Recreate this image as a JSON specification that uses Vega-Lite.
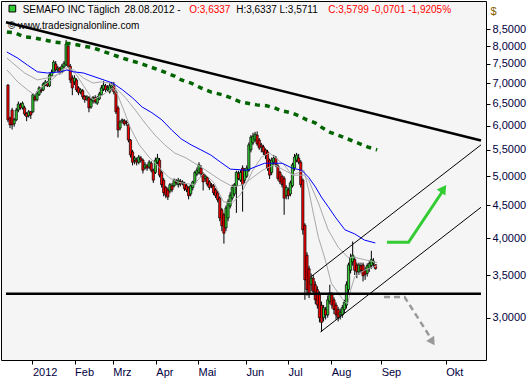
{
 "$schema": "https://vega.github.io/schema/vega-lite/v6.json",
 "width": 485, "height": 359,
 "autosize": "none",
 "padding": {"left": 1, "top": 1, "right": 44, "bottom": 20},
 "background": "white",
 "config": {"view": {"stroke": "black", "strokeWidth": 1, "fill": "#f5f5f5"}, "font": "Liberation Sans"},
 "datasets": {
  "candles": [
   {"i":0,"o":6.95,"h":6.97,"l":6.08,"c":6.13},{"i":1,"o":6.17,"h":6.20,"l":5.95,"c":6.02},{"i":2,"o":6.35,"h":6.40,"l":5.92,"c":6.02},{"i":3,"o":6.04,"h":6.17,"l":5.98,"c":6.13},{"i":4,"o":6.13,"h":6.40,"l":6.10,"c":6.35},{"i":5,"o":6.35,"h":6.55,"l":6.30,"c":6.49},{"i":6,"o":6.47,"h":6.52,"l":6.36,"c":6.40},{"i":7,"o":6.40,"h":6.55,"l":6.36,"c":6.51},{"i":8,"o":6.40,"h":6.45,"l":6.22,"c":6.26},{"i":9,"o":6.28,"h":6.30,"l":6.10,"c":6.20},
   {"i":10,"o":6.22,"h":6.35,"l":6.18,"c":6.31},{"i":11,"o":6.31,"h":6.33,"l":6.15,"c":6.24},{"i":12,"o":6.31,"h":6.75,"l":6.28,"c":6.71},{"i":13,"o":6.66,"h":6.73,"l":6.55,"c":6.59},{"i":14,"o":6.59,"h":6.80,"l":6.55,"c":6.76},{"i":15,"o":6.71,"h":6.92,"l":6.68,"c":6.88},{"i":16,"o":6.83,"h":6.90,"l":6.75,"c":6.80},{"i":17,"o":6.83,"h":7.02,"l":6.80,"c":6.98},{"i":18,"o":6.95,"h":7.08,"l":6.92,"c":7.03},{"i":19,"o":7.00,"h":7.05,"l":6.90,"c":6.93},
   {"i":20,"o":6.93,"h":7.25,"l":6.90,"c":7.21},{"i":21,"o":7.18,"h":7.35,"l":7.15,"c":7.28},{"i":22,"o":7.28,"h":7.60,"l":7.25,"c":7.55},{"i":23,"o":7.50,"h":7.58,"l":7.30,"c":7.34},{"i":24,"o":7.34,"h":7.45,"l":7.28,"c":7.39},{"i":25,"o":7.39,"h":7.42,"l":7.22,"c":7.28},{"i":26,"o":7.28,"h":7.50,"l":7.25,"c":7.44},{"i":27,"o":7.42,"h":7.58,"l":7.38,"c":7.52},{"i":28,"o":7.47,"h":8.18,"l":7.45,"c":8.06},{"i":29,"o":8.00,"h":8.10,"l":7.40,"c":7.44},
   {"i":30,"o":7.44,"h":7.50,"l":7.00,"c":7.08},{"i":31,"o":7.13,"h":7.20,"l":6.70,"c":6.88},{"i":32,"o":7.03,"h":7.20,"l":6.95,"c":7.13},{"i":33,"o":7.08,"h":7.12,"l":6.78,"c":6.83},{"i":34,"o":6.88,"h":6.92,"l":6.70,"c":6.76},{"i":35,"o":6.78,"h":6.87,"l":6.72,"c":6.83},{"i":36,"o":6.81,"h":6.85,"l":6.60,"c":6.66},{"i":37,"o":6.68,"h":6.70,"l":6.52,"c":6.59},{"i":38,"o":6.61,"h":6.70,"l":6.56,"c":6.66},{"i":39,"o":6.64,"h":6.68,"l":6.30,"c":6.40},
   {"i":40,"o":6.42,"h":6.63,"l":6.38,"c":6.59},{"i":41,"o":6.56,"h":6.68,"l":6.50,"c":6.64},{"i":42,"o":6.64,"h":6.70,"l":6.50,"c":6.54},{"i":43,"o":6.51,"h":6.68,"l":6.47,"c":6.64},{"i":44,"o":6.61,"h":6.78,"l":6.58,"c":6.73},{"i":45,"o":6.71,"h":6.95,"l":6.68,"c":6.88},{"i":46,"o":6.85,"h":7.05,"l":6.80,"c":6.95},{"i":47,"o":6.93,"h":6.98,"l":6.78,"c":6.83},{"i":48,"o":6.83,"h":6.95,"l":6.78,"c":6.88},{"i":49,"o":6.78,"h":7.00,"l":6.74,"c":6.93},
   {"i":50,"o":6.88,"h":7.03,"l":6.82,"c":6.95},{"i":51,"o":6.93,"h":7.03,"l":6.72,"c":6.78},{"i":52,"o":6.78,"h":6.82,"l":6.26,"c":6.31},{"i":53,"o":6.40,"h":6.45,"l":5.75,"c":5.91},{"i":54,"o":5.95,"h":6.12,"l":5.90,"c":6.08},{"i":55,"o":6.10,"h":6.16,"l":6.05,"c":6.13},{"i":56,"o":6.11,"h":6.15,"l":6.00,"c":6.04},{"i":57,"o":6.08,"h":6.12,"l":6.00,"c":6.06},{"i":58,"o":6.02,"h":6.05,"l":5.65,"c":5.70},{"i":59,"o":5.70,"h":5.72,"l":5.35,"c":5.40},
   {"i":60,"o":5.46,"h":5.50,"l":5.20,"c":5.26},{"i":61,"o":5.30,"h":5.38,"l":5.22,"c":5.34},{"i":62,"o":5.30,"h":5.35,"l":5.20,"c":5.26},{"i":63,"o":5.26,"h":5.40,"l":5.22,"c":5.36},{"i":64,"o":5.34,"h":5.38,"l":5.25,"c":5.30},{"i":65,"o":5.30,"h":5.33,"l":5.05,"c":5.11},{"i":66,"o":5.15,"h":5.26,"l":5.12,"c":5.21},{"i":67,"o":5.19,"h":5.23,"l":5.10,"c":5.15},{"i":68,"o":5.17,"h":5.30,"l":5.13,"c":5.26},{"i":69,"o":5.24,"h":5.28,"l":5.07,"c":5.11},
   {"i":70,"o":5.11,"h":5.14,"l":4.88,"c":4.93},{"i":71,"o":5.07,"h":5.35,"l":5.04,"c":5.30},{"i":72,"o":5.26,"h":5.42,"l":5.22,"c":5.34},{"i":73,"o":5.30,"h":5.34,"l":4.98,"c":5.02},{"i":74,"o":5.07,"h":5.10,"l":4.80,"c":4.85},{"i":75,"o":4.93,"h":4.97,"l":4.65,"c":4.71},{"i":76,"o":4.80,"h":4.83,"l":4.62,"c":4.67},{"i":77,"o":4.76,"h":4.80,"l":4.59,"c":4.64},{"i":78,"o":4.74,"h":4.88,"l":4.70,"c":4.85},{"i":79,"o":4.83,"h":4.88,"l":4.72,"c":4.76},
   {"i":80,"o":4.83,"h":4.96,"l":4.80,"c":4.93},{"i":81,"o":4.91,"h":4.95,"l":4.84,"c":4.88},{"i":82,"o":4.85,"h":4.97,"l":4.80,"c":4.93},{"i":83,"o":4.91,"h":4.95,"l":4.82,"c":4.86},{"i":84,"o":4.88,"h":4.93,"l":4.84,"c":4.90},{"i":85,"o":4.88,"h":4.90,"l":4.74,"c":4.78},{"i":86,"o":4.83,"h":4.86,"l":4.72,"c":4.76},{"i":87,"o":4.80,"h":4.82,"l":4.60,"c":4.66},{"i":88,"o":4.69,"h":4.86,"l":4.65,"c":4.83},{"i":89,"o":4.80,"h":4.92,"l":4.75,"c":4.90},
   {"i":90,"o":4.88,"h":5.10,"l":4.85,"c":5.07},{"i":91,"o":5.04,"h":5.16,"l":5.00,"c":5.11},{"i":92,"o":5.07,"h":5.26,"l":5.03,"c":5.21},{"i":93,"o":5.15,"h":5.20,"l":4.98,"c":5.04},{"i":94,"o":5.04,"h":5.07,"l":4.75,"c":4.90},{"i":95,"o":4.96,"h":5.04,"l":4.90,"c":5.00},{"i":96,"o":4.98,"h":5.00,"l":4.82,"c":4.86},{"i":97,"o":4.90,"h":4.93,"l":4.76,"c":4.80},{"i":98,"o":4.85,"h":4.88,"l":4.79,"c":4.83},{"i":99,"o":4.83,"h":4.86,"l":4.67,"c":4.71},
   {"i":100,"o":4.76,"h":4.79,"l":4.62,"c":4.66},{"i":101,"o":4.71,"h":4.74,"l":4.55,"c":4.59},{"i":102,"o":4.62,"h":4.65,"l":4.25,"c":4.30},{"i":103,"o":4.43,"h":4.46,"l":4.10,"c":4.18},{"i":104,"o":4.35,"h":4.38,"l":3.92,"c":4.07},{"i":105,"o":4.15,"h":4.50,"l":4.10,"c":4.46},{"i":106,"o":4.30,"h":4.60,"l":4.25,"c":4.56},{"i":107,"o":4.49,"h":4.72,"l":4.45,"c":4.67},{"i":108,"o":4.62,"h":4.85,"l":4.58,"c":4.80},{"i":109,"o":4.69,"h":4.88,"l":4.65,"c":4.85},
   {"i":110,"o":4.83,"h":5.10,"l":4.38,"c":5.07},{"i":111,"o":5.05,"h":5.10,"l":4.93,"c":4.96},{"i":112,"o":4.93,"h":5.11,"l":4.90,"c":5.07},{"i":113,"o":5.15,"h":5.20,"l":4.40,"c":4.85},{"i":114,"o":4.93,"h":5.15,"l":4.88,"c":5.11},{"i":115,"o":5.00,"h":5.20,"l":4.97,"c":5.15},{"i":116,"o":5.11,"h":5.65,"l":5.08,"c":5.60},{"i":117,"o":5.50,"h":5.80,"l":5.45,"c":5.76},{"i":118,"o":5.64,"h":5.85,"l":5.60,"c":5.78},{"i":119,"o":5.70,"h":5.87,"l":5.66,"c":5.82},
   {"i":120,"o":5.80,"h":5.88,"l":5.58,"c":5.62},{"i":121,"o":5.70,"h":5.74,"l":5.50,"c":5.54},{"i":122,"o":5.60,"h":5.64,"l":5.45,"c":5.56},{"i":123,"o":5.56,"h":5.60,"l":5.40,"c":5.46},{"i":124,"o":5.50,"h":5.53,"l":5.32,"c":5.40},{"i":125,"o":5.46,"h":5.50,"l":5.10,"c":5.15},{"i":126,"o":5.30,"h":5.33,"l":4.95,"c":5.02},{"i":127,"o":5.07,"h":5.35,"l":5.02,"c":5.30},{"i":128,"o":5.26,"h":5.40,"l":5.20,"c":5.34},{"i":129,"o":5.34,"h":5.38,"l":5.17,"c":5.21},
   {"i":130,"o":5.19,"h":5.22,"l":4.92,"c":4.96},{"i":131,"o":5.07,"h":5.10,"l":4.86,"c":4.90},{"i":132,"o":5.00,"h":5.03,"l":4.80,"c":4.85},{"i":133,"o":4.96,"h":5.00,"l":4.35,"c":4.62},{"i":134,"o":4.66,"h":4.84,"l":4.60,"c":4.80},{"i":135,"o":4.76,"h":4.80,"l":4.60,"c":4.66},{"i":136,"o":4.69,"h":4.92,"l":4.65,"c":4.88},{"i":137,"o":4.83,"h":5.25,"l":4.80,"c":5.21},{"i":138,"o":5.15,"h":5.42,"l":5.10,"c":5.36},{"i":139,"o":5.30,"h":5.44,"l":5.26,"c":5.40},
   {"i":140,"o":5.34,"h":5.42,"l":5.22,"c":5.26},{"i":141,"o":5.26,"h":5.30,"l":4.80,"c":4.85},{"i":142,"o":4.93,"h":4.96,"l":4.05,"c":4.12},{"i":143,"o":4.19,"h":4.22,"l":3.20,"c":3.44},{"i":144,"o":3.76,"h":3.80,"l":3.25,"c":3.32},{"i":145,"o":3.58,"h":3.62,"l":3.22,"c":3.26},{"i":146,"o":3.38,"h":3.52,"l":3.30,"c":3.46},{"i":147,"o":3.46,"h":3.50,"l":3.26,"c":3.30},{"i":148,"o":3.38,"h":3.42,"l":3.15,"c":3.20},{"i":149,"o":3.32,"h":3.36,"l":3.10,"c":3.14},
   {"i":150,"o":3.26,"h":3.30,"l":2.95,"c":3.00},{"i":151,"o":3.14,"h":3.18,"l":2.85,"c":2.95},{"i":152,"o":3.00,"h":3.14,"l":2.96,"c":3.11},{"i":153,"o":3.09,"h":3.12,"l":2.98,"c":3.03},{"i":154,"o":3.03,"h":3.25,"l":3.00,"c":3.20},{"i":155,"o":3.18,"h":3.38,"l":3.15,"c":3.28},{"i":156,"o":3.26,"h":3.29,"l":3.10,"c":3.14},{"i":157,"o":3.20,"h":3.23,"l":3.04,"c":3.09},{"i":158,"o":3.14,"h":3.17,"l":2.98,"c":3.03},{"i":159,"o":3.09,"h":3.12,"l":2.96,"c":3.00},
   {"i":160,"o":3.03,"h":3.10,"l":2.98,"c":3.06},{"i":161,"o":3.03,"h":3.14,"l":3.00,"c":3.11},{"i":162,"o":3.09,"h":3.20,"l":3.05,"c":3.17},{"i":163,"o":3.14,"h":3.42,"l":3.10,"c":3.38},{"i":164,"o":3.32,"h":3.66,"l":3.28,"c":3.63},{"i":165,"o":3.56,"h":3.78,"l":3.52,"c":3.73},{"i":166,"o":3.67,"h":3.95,"l":3.62,"c":3.76},{"i":167,"o":3.70,"h":3.74,"l":3.50,"c":3.56},{"i":168,"o":3.63,"h":3.66,"l":3.46,"c":3.54},{"i":169,"o":3.54,"h":3.66,"l":3.50,"c":3.63},
   {"i":170,"o":3.62,"h":3.66,"l":3.52,"c":3.56},{"i":171,"o":3.63,"h":3.66,"l":3.42,"c":3.49},{"i":172,"o":3.56,"h":3.60,"l":3.44,"c":3.51},{"i":173,"o":3.52,"h":3.65,"l":3.48,"c":3.62},{"i":174,"o":3.59,"h":3.68,"l":3.54,"c":3.65},{"i":175,"o":3.62,"h":3.82,"l":3.58,"c":3.70},{"i":176,"o":3.65,"h":3.72,"l":3.60,"c":3.68},{"i":177,"o":3.6337,"h":3.6337,"l":3.5711,"c":3.5799}
  ],
  "blue": [
   {"i":-0.5,"v":7.83},{"i":4.7,"v":7.66},{"i":9.4,"v":7.47},{"i":14.2,"v":7.29},{"i":18.9,"v":7.26},{"i":25.5,"v":7.29},{"i":28.3,"v":7.34},{"i":31.6,"v":7.29},{"i":36.3,"v":7.26},{"i":43.4,"v":7.13},{"i":50.5,"v":7.0},{"i":55.2,"v":6.83},{"i":59.9,"v":6.64},{"i":64.6,"v":6.42},{"i":69.3,"v":6.29},{"i":74.1,"v":6.13},{"i":78.8,"v":5.91},{"i":83.5,"v":5.72},{"i":88.2,"v":5.60},{"i":92.9,"v":5.50},{"i":97.6,"v":5.40},{"i":102.4,"v":5.26},{"i":107.1,"v":5.13},{"i":115.1,"v":5.11},{"i":118.9,"v":5.17},{"i":123.6,"v":5.24},{"i":132.1,"v":5.24},{"i":136.8,"v":5.15},{"i":141.5,"v":5.11},{"i":144.8,"v":4.98},{"i":148.1,"v":4.81},{"i":150.9,"v":4.64},{"i":154.2,"v":4.48},{"i":157.5,"v":4.32},{"i":162.3,"v":4.12},{"i":167.0,"v":4.06},{"i":171.7,"v":3.97},{"i":176.9,"v":3.93}
  ],
  "slow": [
   {"i":-0.5,"v":7.66},{"i":8.0,"v":7.26},{"i":14.2,"v":7.08},{"i":18.9,"v":7.13},{"i":23.6,"v":7.21},{"i":28.3,"v":7.34},{"i":31.6,"v":7.34},{"i":36.3,"v":7.13},{"i":41.0,"v":7.0},{"i":44.8,"v":7.03},{"i":49.1,"v":7.0},{"i":52.8,"v":6.83},{"i":56.6,"v":6.64},{"i":61.3,"v":6.35},{"i":66.0,"v":6.06},{"i":70.8,"v":5.80},{"i":75.5,"v":5.60},{"i":80.2,"v":5.44},{"i":85.8,"v":5.34},{"i":92.9,"v":5.17},{"i":102.4,"v":4.93},{"i":108.5,"v":4.81},{"i":113.2,"v":4.85},{"i":117.9,"v":4.98},{"i":122.6,"v":5.11},{"i":128.3,"v":5.21},{"i":133.0,"v":5.11},{"i":137.7,"v":5.02},{"i":142.5,"v":5.02},{"i":144.8,"v":4.93},{"i":149.5,"v":4.54},{"i":154.2,"v":4.12},{"i":159.0,"v":3.87},{"i":163.7,"v":3.73},{"i":167.0,"v":3.73},{"i":171.7,"v":3.70},{"i":177.8,"v":3.66}
  ],
  "fast": [
   {"i":-0.5,"v":7.34},{"i":4.7,"v":7.03},{"i":9.4,"v":6.83},{"i":12.7,"v":6.71},{"i":17.5,"v":6.95},{"i":22.2,"v":7.13},{"i":25.9,"v":7.34},{"i":29.2,"v":7.42},{"i":33.0,"v":7.21},{"i":37.7,"v":6.83},{"i":41.0,"v":6.59},{"i":45.8,"v":6.71},{"i":50.5,"v":6.88},{"i":52.8,"v":6.71},{"i":56.1,"v":6.31},{"i":59.0,"v":5.95},{"i":63.2,"v":5.60},{"i":67.9,"v":5.36},{"i":72.6,"v":5.17},{"i":77.4,"v":4.98},{"i":82.1,"v":4.89},{"i":85.8,"v":4.87},{"i":89.6,"v":4.85},{"i":94.3,"v":5.06},{"i":99.1,"v":4.89},{"i":103.8,"v":4.56},{"i":108.0,"v":4.54},{"i":111.8,"v":4.67},{"i":115.1,"v":4.89},{"i":117.9,"v":5.11},{"i":122.2,"v":5.36},{"i":125.9,"v":5.44},{"i":133.0,"v":5.21},{"i":136.8,"v":5.02},{"i":140.1,"v":5.07},{"i":142.5,"v":5.11},{"i":144.8,"v":4.76},{"i":147.2,"v":4.35},{"i":149.5,"v":4.01},{"i":152.8,"v":3.70},{"i":155.7,"v":3.40},{"i":159.0,"v":3.28},{"i":162.3,"v":3.17},{"i":163.7,"v":3.16},{"i":165.1,"v":3.32},{"i":167.0,"v":3.48},{"i":171.7,"v":3.56},{"i":174.5,"v":3.59},{"i":177.8,"v":3.62}
  ],
  "ma200": [
   {"i":-0.5,"v":8.42},{"i":3.3,"v":8.39},{"i":8.0,"v":8.27},{"i":12.7,"v":8.24},{"i":17.5,"v":8.18},{"i":22.2,"v":8.12},{"i":26.9,"v":8.09},{"i":31.6,"v":8.06},{"i":36.3,"v":8.0},{"i":41.0,"v":7.95},{"i":55.2,"v":7.66},{"i":64.6,"v":7.50},{"i":72.6,"v":7.34},{"i":76.4,"v":7.26},{"i":80.2,"v":7.18},{"i":83.5,"v":7.08},{"i":88.2,"v":7.0},{"i":92.9,"v":6.88},{"i":97.6,"v":6.78},{"i":103.3,"v":6.71},{"i":107.1,"v":6.64},{"i":111.8,"v":6.54},{"i":119.8,"v":6.47},{"i":124.5,"v":6.45},{"i":128.3,"v":6.40},{"i":132.1,"v":6.33},{"i":136.3,"v":6.29},{"i":140.1,"v":6.22},{"i":143.9,"v":6.13},{"i":148.1,"v":6.06},{"i":150.9,"v":5.97},{"i":155.2,"v":5.86},{"i":158.9,"v":5.80},{"i":163.7,"v":5.72},{"i":168.4,"v":5.64},{"i":173.1,"v":5.56},{"i":177.8,"v":5.50}
  ],
  "trend": [{"i":-0.94,"v":8.72},{"i":227.8,"v":5.69}],
  "support": [{"i":-0.94,"v":3.27},{"i":227.8,"v":3.27}],
  "chanUp": [{"i":145.75,"v":3.475},{"i":227.8,"v":5.60}],
  "chanLow": [{"i":150.5,"v":2.849},{"i":227.8,"v":4.47}],
  "greenArrow": [{"i":182.5,"v":3.94},{"i":192.9,"v":3.94},{"i":209.4,"v":4.74}],
  "greenHead": [{"i":209.8,"v":4.78}],
  "greyArrow": [{"i":181.1,"v":3.233},{"i":191.0,"v":3.233},{"i":204.2,"v":2.768}],
  "greyHead": [{"i":204.4,"v":2.75}],
  "hdrBlack": [{"i":7.08,"v":9.13,"t":"SEMAFO INC Täglich"},{"i":56.1,"v":9.13,"t":"28.08.2012 -"},{"i":109.9,"v":9.13,"t":"H:3,6337 L:3,5711"},{"i":0,"v":8.60,"t":"© www.tradesignalonline.com"}],
  "hdrRed": [{"i":87.3,"v":9.13,"t":"O:3,6337"},{"i":154.2,"v":9.13,"t":"C:3,5799 -0,0701 -1,9205%"}],
  "icon": [{"i":2.12,"v":9.16}]
 },
 "layer": [
  {"data": {"name": "candles"}, "mark": {"type": "rule", "color": "black", "strokeWidth": 1},
   "encoding": {
    "x": {"field": "i", "type": "quantitative", "title": null, "scale": {"domain": [-0.94, 227.8], "nice": false, "zero": false},
      "axis": {"values": [11.79, 32.08, 50.47, 71.23, 91.51, 114.62, 134.91, 155.66, 179.72, 210.85],
        "labelExpr": "datum.value < 20 ? '2012' : datum.value < 40 ? 'Feb' : datum.value < 60 ? 'Mrz' : datum.value < 80 ? 'Apr' : datum.value < 100 ? 'Mai' : datum.value < 125 ? 'Jun' : datum.value < 145 ? 'Jul' : datum.value < 165 ? 'Aug' : datum.value < 195 ? 'Sep' : 'Okt'",
        "grid": false, "domain": false, "tickSize": 4, "tickColor": "black", "labelAlign": "left", "labelPadding": 2, "labelFontSize": 11, "labelColor": "#000040", "labelOverlap": false, "labelBound": false, "labelFlush": false}},
    "y": {"field": "l", "type": "quantitative", "title": "$", "scale": {"type": "log", "domain": [2.575, 9.415], "nice": false},
      "axis": {"orient": "right", "values": [3, 3.5, 4, 4.5, 5, 5.5, 6, 6.5, 7, 7.5, 8, 8.5],
        "labelExpr": "replace(format(datum.value, '.4f'), '.', ',')",
        "titleAngle": 0, "titleX": 4, "titleY": 10, "titleAlign": "left", "titleBaseline": "middle", "titleFontSize": 11, "titleFontWeight": "normal", "titleColor": "#806000",
        "grid": false, "domain": false, "tickSize": 4, "tickColor": "black", "labelPadding": 2, "labelFontSize": 11, "labelColor": "#000040", "labelOverlap": false, "labelBound": false, "labelFlush": false}},
    "y2": {"field": "h"}
   }},
  {"data": {"name": "candles"}, "mark": {"type": "bar", "size": 2.2, "stroke": "black", "strokeWidth": 0.7},
   "encoding": {
    "x": {"field": "i", "type": "quantitative", "title": null},
    "y": {"field": "o", "type": "quantitative", "title": "$"},
    "y2": {"field": "c"},
    "color": {"condition": {"test": "datum.c >= datum.o", "value": "#33cc33"}, "value": "#ff0000"}
   }},
  {"data": {"name": "ma200"}, "mark": {"type": "line", "color": "#006400", "strokeWidth": 3.5, "strokeDash": [5, 5]},
   "encoding": {"x": {"field": "i", "type": "quantitative", "title": null}, "y": {"field": "v", "type": "quantitative", "title": "$"}}},
  {"data": {"name": "slow"}, "mark": {"type": "line", "color": "#a8a8a8", "strokeWidth": 1},
   "encoding": {"x": {"field": "i", "type": "quantitative", "title": null}, "y": {"field": "v", "type": "quantitative", "title": "$"}}},
  {"data": {"name": "fast"}, "mark": {"type": "line", "color": "#a8a8a8", "strokeWidth": 1},
   "encoding": {"x": {"field": "i", "type": "quantitative", "title": null}, "y": {"field": "v", "type": "quantitative", "title": "$"}}},
  {"data": {"name": "blue"}, "mark": {"type": "line", "color": "#0000ff", "strokeWidth": 1},
   "encoding": {"x": {"field": "i", "type": "quantitative", "title": null}, "y": {"field": "v", "type": "quantitative", "title": "$"}}},
  {"data": {"name": "trend"}, "mark": {"type": "line", "color": "black", "strokeWidth": 2.5},
   "encoding": {"x": {"field": "i", "type": "quantitative", "title": null}, "y": {"field": "v", "type": "quantitative", "title": "$"}}},
  {"data": {"name": "support"}, "mark": {"type": "line", "color": "black", "strokeWidth": 2.5},
   "encoding": {"x": {"field": "i", "type": "quantitative", "title": null}, "y": {"field": "v", "type": "quantitative", "title": "$"}}},
  {"data": {"name": "chanUp"}, "mark": {"type": "line", "color": "black", "strokeWidth": 1},
   "encoding": {"x": {"field": "i", "type": "quantitative", "title": null}, "y": {"field": "v", "type": "quantitative", "title": "$"}}},
  {"data": {"name": "chanLow"}, "mark": {"type": "line", "color": "black", "strokeWidth": 1},
   "encoding": {"x": {"field": "i", "type": "quantitative", "title": null}, "y": {"field": "v", "type": "quantitative", "title": "$"}}},
  {"data": {"name": "greenArrow"}, "mark": {"type": "line", "color": "#33cc33", "strokeWidth": 3},
   "encoding": {"x": {"field": "i", "type": "quantitative", "title": null}, "y": {"field": "v", "type": "quantitative", "title": "$"}}},
  {"data": {"name": "greenHead"}, "mark": {"type": "point", "shape": "triangle-up", "filled": true, "color": "#33cc33", "size": 110, "angle": 35, "opacity": 1},
   "encoding": {"x": {"field": "i", "type": "quantitative", "title": null}, "y": {"field": "v", "type": "quantitative", "title": "$"}}},
  {"data": {"name": "greyArrow"}, "mark": {"type": "line", "color": "#999999", "strokeWidth": 2.5, "strokeDash": [6, 4]},
   "encoding": {"x": {"field": "i", "type": "quantitative", "title": null}, "y": {"field": "v", "type": "quantitative", "title": "$"}}},
  {"data": {"name": "greyHead"}, "mark": {"type": "point", "shape": "triangle-up", "filled": true, "color": "#999999", "size": 90, "angle": 147, "opacity": 1},
   "encoding": {"x": {"field": "i", "type": "quantitative", "title": null}, "y": {"field": "v", "type": "quantitative", "title": "$"}}},
  {"data": {"name": "icon"}, "mark": {"type": "point", "shape": "square", "filled": true, "color": "#33cc33", "stroke": "black", "strokeWidth": 1, "size": 45, "opacity": 1},
   "encoding": {"x": {"field": "i", "type": "quantitative", "title": null}, "y": {"field": "v", "type": "quantitative", "title": "$"}}},
  {"data": {"name": "hdrBlack"}, "mark": {"type": "text", "align": "left", "baseline": "middle", "color": "black", "fontSize": 10, "font": "Liberation Sans"},
   "encoding": {"x": {"field": "i", "type": "quantitative", "title": null}, "y": {"field": "v", "type": "quantitative", "title": "$"}, "text": {"field": "t"}}},
  {"data": {"name": "hdrRed"}, "mark": {"type": "text", "align": "left", "baseline": "middle", "color": "#ff0000", "fontSize": 10, "font": "Liberation Sans"},
   "encoding": {"x": {"field": "i", "type": "quantitative", "title": null}, "y": {"field": "v", "type": "quantitative", "title": "$"}, "text": {"field": "t"}}}
 ]
}
